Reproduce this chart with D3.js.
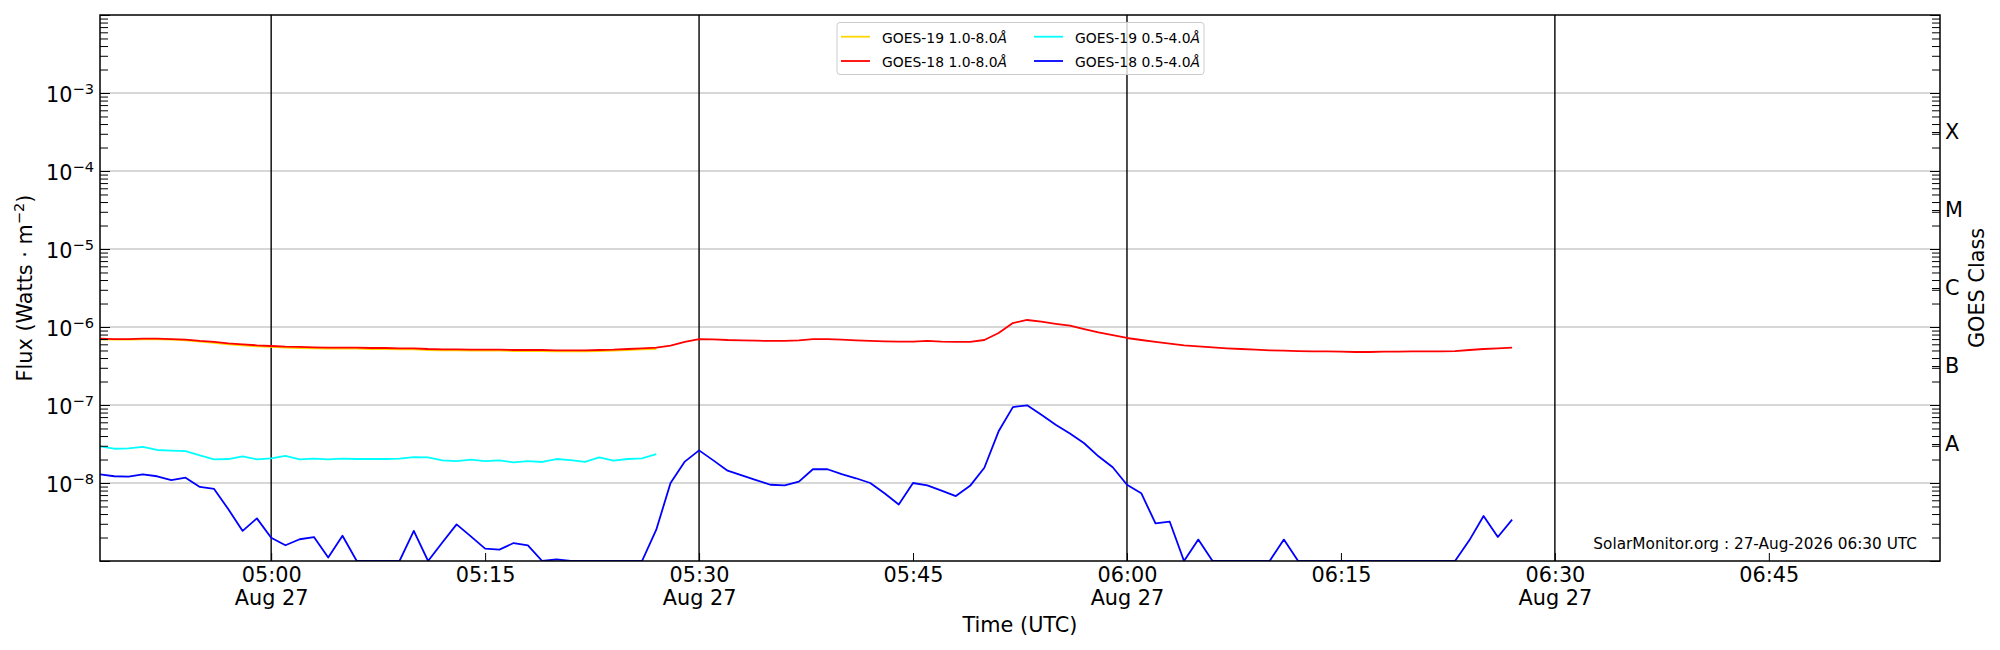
<!DOCTYPE html>
<html>
<head>
<meta charset="utf-8">
<script src="https://cdn.jsdelivr.net/npm/d3@7"></script>
<style>
  html, body { margin: 0; padding: 0; background: #fff; }
  svg { display: block; font-family: "DejaVu Sans", sans-serif; }
</style>
</head>
<body>
<svg id="chart" width="2000" height="650"></svg>
<script>
// ---- Data (1-minute cadence starting at START) ---------------------------
var START = "2026-08-27T04:48:00Z";

// GOES-18 1.0-8.0 A (red)
var g18Long = [
  7.08e-7, 7.01e-7, 7.01e-7, 7.08e-7, 7.08e-7, 7.01e-7, 6.88e-7, 6.62e-7, 6.43e-7, 6.18e-7,
  6.00e-7, 5.82e-7, 5.71e-7, 5.60e-7, 5.55e-7, 5.48e-7, 5.43e-7, 5.43e-7, 5.43e-7, 5.38e-7,
  5.38e-7, 5.33e-7, 5.33e-7, 5.22e-7, 5.17e-7, 5.17e-7, 5.12e-7, 5.12e-7, 5.12e-7, 5.07e-7,
  5.07e-7, 5.07e-7, 5.02e-7, 5.02e-7, 5.02e-7, 5.07e-7, 5.12e-7, 5.22e-7, 5.33e-7, 5.43e-7,
  5.76e-7, 6.43e-7, 7.01e-7, 6.95e-7, 6.81e-7, 6.75e-7, 6.68e-7, 6.62e-7, 6.62e-7, 6.75e-7,
  7.01e-7, 7.01e-7, 6.88e-7, 6.75e-7, 6.62e-7, 6.55e-7, 6.49e-7, 6.49e-7, 6.62e-7, 6.49e-7,
  6.43e-7, 6.43e-7, 6.81e-7, 8.38e-7, 1.125e-6, 1.23e-6, 1.17e-6, 1.10e-6, 1.04e-6, 9.42e-7,
  8.54e-7, 7.89e-7, 7.23e-7, 6.81e-7, 6.43e-7, 6.11e-7, 5.82e-7, 5.65e-7, 5.48e-7, 5.33e-7,
  5.22e-7, 5.12e-7, 5.02e-7, 4.97e-7, 4.92e-7, 4.88e-7, 4.88e-7, 4.83e-7, 4.78e-7, 4.78e-7,
  4.83e-7, 4.83e-7, 4.88e-7, 4.88e-7, 4.88e-7, 4.92e-7, 5.07e-7, 5.22e-7, 5.33e-7, 5.43e-7
];

// GOES-18 0.5-4.0 A (blue)
var g18Short = [
  1.29e-8, 1.22e-8, 1.21e-8, 1.29e-8, 1.22e-8, 1.09e-8, 1.17e-8, 8.9e-9, 8.4e-9, 4.6e-9,
  2.43e-9, 3.52e-9, 1.99e-9, 1.59e-9, 1.90e-9, 2.03e-9, 1.11e-9, 2.11e-9, 1.0e-9, 1.0e-9,
  1.0e-9, 1.0e-9, 2.43e-9, 1.0e-9, 1.73e-9, 2.95e-9, 2.07e-9, 1.44e-9, 1.40e-9, 1.70e-9,
  1.59e-9, 1.0e-9, 1.05e-9, 1.0e-9, 1.0e-9, 1.0e-9, 1.0e-9, 1.0e-9, 1.0e-9, 2.52e-9,
  1.0e-8, 1.88e-8, 2.62e-8, 1.95e-8, 1.44e-8, 1.25e-8, 1.09e-8, 9.5e-9, 9.3e-9, 1.04e-8,
  1.51e-8, 1.50e-8, 1.30e-8, 1.15e-8, 1.0e-8, 7.4e-9, 5.3e-9, 1.0e-8, 9.3e-9, 7.98e-9,
  6.8e-9, 9.2e-9, 1.57e-8, 4.6e-8, 9.4e-8, 9.9e-8, 7.5e-8, 5.6e-8, 4.3e-8, 3.23e-8,
  2.2e-8, 1.59e-8, 9.5e-9, 7.4e-9, 3.04e-9, 3.19e-9, 1.0e-9, 1.88e-9, 1.0e-9, 1.0e-9,
  1.0e-9, 1.0e-9, 1.0e-9, 1.88e-9, 1.0e-9, 1.0e-9, 1.0e-9, 1.0e-9, 1.0e-9, 1.0e-9,
  1.0e-9, 1.0e-9, 1.0e-9, 1.0e-9, 1.0e-9, 1.0e-9, 1.84e-9, 3.78e-9, 2.03e-9, 3.39e-9
];

// GOES-19 1.0-8.0 A (gold)
var g19Long = [
  6.95e-7, 6.88e-7, 6.88e-7, 6.95e-7, 6.95e-7, 6.88e-7, 6.75e-7, 6.49e-7, 6.24e-7, 6.00e-7,
  5.82e-7, 5.65e-7, 5.55e-7, 5.43e-7, 5.38e-7, 5.33e-7, 5.27e-7, 5.27e-7, 5.27e-7, 5.22e-7,
  5.22e-7, 5.17e-7, 5.17e-7, 5.07e-7, 5.02e-7, 5.02e-7, 4.97e-7, 4.97e-7, 4.97e-7, 4.92e-7,
  4.92e-7, 4.92e-7, 4.88e-7, 4.88e-7, 4.88e-7, 4.92e-7, 4.97e-7, 5.07e-7, 5.17e-7, 5.22e-7
];

// GOES-19 0.5-4.0 A (cyan)
var g19Short = [
  2.95e-8, 2.75e-8, 2.78e-8, 2.90e-8, 2.65e-8, 2.60e-8, 2.57e-8, 2.26e-8, 2.01e-8, 2.03e-8,
  2.20e-8, 2.01e-8, 2.07e-8, 2.22e-8, 2.01e-8, 2.05e-8, 2.01e-8, 2.05e-8, 2.03e-8, 2.03e-8,
  2.03e-8, 2.05e-8, 2.15e-8, 2.13e-8, 1.95e-8, 1.91e-8, 1.99e-8, 1.91e-8, 1.95e-8, 1.84e-8,
  1.91e-8, 1.86e-8, 2.03e-8, 1.97e-8, 1.86e-8, 2.13e-8, 1.93e-8, 2.03e-8, 2.07e-8, 2.35e-8
];

var seriesNames = ["GOES-19 1.0-8.0", "GOES-18 1.0-8.0", "GOES-19 0.5-4.0", "GOES-18 0.5-4.0"];
var seriesColors = ["#ffd700", "#ff0000", "#00ffff", "#0000ff"];
var goesClasses = ["A", "B", "C", "M", "X"];
var classExponents = [-7.5, -6.5, -5.5, -4.5, -3.5];
var yLabelExponents = [-3, -4, -5, -6, -7, -8];

// ---- Layout --------------------------------------------------------------
var ML = 100, MR = 1940, MT = 15, MB = 561;
var FONT = "DejaVu Sans";
var FS = 20.8, FS_SUP = 14.6;

var svg = d3.select("#chart");

var x = d3.scaleUtc()
  .domain([new Date("2026-08-27T04:48:00Z"), new Date("2026-08-27T06:57:00Z")])
  .range([ML, MR]);
var y = d3.scaleLog().domain([1e-9, 1e-2]).range([MB, MT]);

var t0 = new Date(START);
function toPoints(arr) {
  return arr.map(function(v, i) { return { t: d3.utcMinute.offset(t0, i), v: v }; });
}

// clip for data
svg.append("defs").append("clipPath").attr("id", "plotclip")
  .append("rect").attr("x", ML).attr("y", MT).attr("width", MR - ML).attr("height", MB - MT);

// ---- Grid ----------------------------------------------------------------
var decades = d3.range(-9, -1).map(function(e) { return Math.pow(10, e); });
svg.append("g").selectAll("line").data(decades.filter(function(d) { return d > 1.5e-9 && d < 0.9e-2; }))
  .join("line")
  .attr("x1", ML).attr("x2", MR)
  .attr("y1", function(d) { return y(d); }).attr("y2", function(d) { return y(d); })
  .attr("stroke", "#b0b0b0").attr("stroke-width", 1.1);

// half-hour vertical lines
svg.append("g").selectAll("line").data(d3.utcMinute.every(30).range(x.domain()[0], x.domain()[1]))
  .join("line")
  .attr("x1", function(d) { return x(d); }).attr("x2", function(d) { return x(d); })
  .attr("y1", MT).attr("y2", MB)
  .attr("stroke", "#000").attr("stroke-width", 1.4);

// ---- Lines ---------------------------------------------------------------
var line = d3.line()
  .x(function(d) { return x(d.t); })
  .y(function(d) { return y(Math.max(d.v, 1e-9)); });

var plot = svg.append("g").attr("clip-path", "url(#plotclip)");
[g19Long, g18Long, g19Short, g18Short].forEach(function(arr, i) {
  plot.append("path")
    .datum(toPoints(arr))
    .attr("d", line)
    .attr("fill", "none")
    .attr("stroke", seriesColors[i])
    .attr("stroke-width", 1.8)
    .attr("stroke-linejoin", "round");
});

// ---- Axes ----------------------------------------------------------------
var minors = [];
d3.range(-9, -2).forEach(function(e) {
  for (var k = 2; k <= 9; k++) minors.push(k * Math.pow(10, e));
});

function yTicks(axisFn, xpos) {
  svg.append("g").attr("transform", "translate(" + xpos + ",0)")
    .call(axisFn(y).tickValues(minors).tickSize(-8).tickFormat(""))
    .call(function(g) { g.select(".domain").remove(); g.selectAll("line").attr("stroke-width", 1); });
  svg.append("g").attr("transform", "translate(" + xpos + ",0)")
    .call(axisFn(y).tickValues(decades).tickSize(-10).tickFormat(""))
    .call(function(g) { g.select(".domain").remove(); g.selectAll("line").attr("stroke-width", 1); });
}
yTicks(d3.axisLeft, ML);
yTicks(d3.axisRight, MR);

// y tick labels 10^n
var ylab = svg.append("g").attr("font-family", FONT).attr("fill", "#000");
yLabelExponents.forEach(function(e) {
  var t = ylab.append("text")
    .attr("x", 94).attr("y", y(Math.pow(10, e)) + 8.6)
    .attr("text-anchor", "end").attr("font-size", FS);
  t.append("tspan").text("10");
  t.append("tspan").attr("font-size", FS_SUP).attr("dy", -7.8).text("\u2212" + (-e));
});

// GOES class labels on right at half decades
var centers = classExponents.map(function(e) { return Math.pow(10, e); });
svg.append("g").attr("transform", "translate(" + MR + ",0)")
  .call(d3.axisRight(y).tickValues(centers).tickSize(-8).tickFormat(""))
  .call(function(g) { g.select(".domain").remove(); });
svg.append("g").selectAll("text").data(centers).join("text")
  .attr("x", 1945).attr("y", function(d) { return y(d); }).attr("dy", "0.36em")
  .attr("font-family", FONT).attr("font-size", FS).attr("fill", "#000")
  .text(function(d, i) { return goesClasses[i]; });

// x axis
var fmtTime = d3.utcFormat("%H:%M"), fmtDay = d3.utcFormat("%b %-d");
var gx = svg.append("g").attr("transform", "translate(0," + MB + ")")
  .call(d3.axisBottom(x).ticks(d3.utcMinute.every(15))
    .tickSizeInner(-8).tickSizeOuter(0).tickPadding(6).tickFormat(fmtTime));
gx.select(".domain").remove();
gx.attr("font-family", FONT).attr("font-size", FS);
gx.selectAll("line").attr("stroke-width", 1);
gx.selectAll("text").attr("fill", "#000").each(function(d) {
  if (d.getUTCMinutes() % 30 === 0) {
    d3.select(this).append("tspan").attr("x", 0).attr("dy", "1.1em").text(fmtDay(d));
  }
});

// frame
svg.append("rect").attr("x", ML).attr("y", MT).attr("width", MR - ML).attr("height", MB - MT)
  .attr("fill", "none").attr("stroke", "#000").attr("stroke-width", 1.5);

// axis labels
svg.append("text").attr("x", (ML + MR) / 2).attr("y", 632).attr("text-anchor", "middle")
  .attr("font-family", FONT).attr("font-size", FS).text("Time (UTC)");

var fl = svg.append("text").attr("transform", "translate(32," + (MT + MB) / 2 + ") rotate(-90)")
  .attr("text-anchor", "middle").attr("font-family", FONT).attr("font-size", FS);
fl.append("tspan").text("Flux (Watts \u00b7 m");
fl.append("tspan").attr("font-size", FS_SUP).attr("dy", -7.8).text("\u22122");
fl.append("tspan").attr("dy", 7.8).text(")");

svg.append("text").attr("transform", "translate(1984," + (MT + MB) / 2 + ") rotate(-90)")
  .attr("text-anchor", "middle").attr("font-family", FONT).attr("font-size", FS).text("GOES Class");

svg.append("text").attr("x", 1917).attr("y", 549).attr("text-anchor", "end")
  .attr("font-family", FONT).attr("font-size", 15.3).text("SolarMonitor.org : 27-Aug-2026 06:30 UTC");

// ---- Legend --------------------------------------------------------------
var lg = svg.append("g").attr("font-family", FONT).attr("font-size", 13.9);
lg.append("rect").attr("x", 837).attr("y", 22.5).attr("width", 367).attr("height", 52)
  .attr("rx", 3).attr("fill", "#fff").attr("fill-opacity", 0.8)
  .attr("stroke", "#cccccc").attr("stroke-width", 1);
var legX = [841, 1034], legY = [36.7, 61];
seriesNames.forEach(function(name, i) {
  var col = Math.floor(i / 2), row = i % 2;
  lg.append("line")
    .attr("x1", legX[col]).attr("x2", legX[col] + 29)
    .attr("y1", legY[row]).attr("y2", legY[row])
    .attr("stroke", seriesColors[i]).attr("stroke-width", 1.8);
  var t = lg.append("text").attr("x", legX[col] + 41).attr("y", legY[row] + 6);
  t.append("tspan").text(name);
  t.append("tspan").attr("font-style", "italic").text("\u00c5");
});
</script>
</body>
</html>
